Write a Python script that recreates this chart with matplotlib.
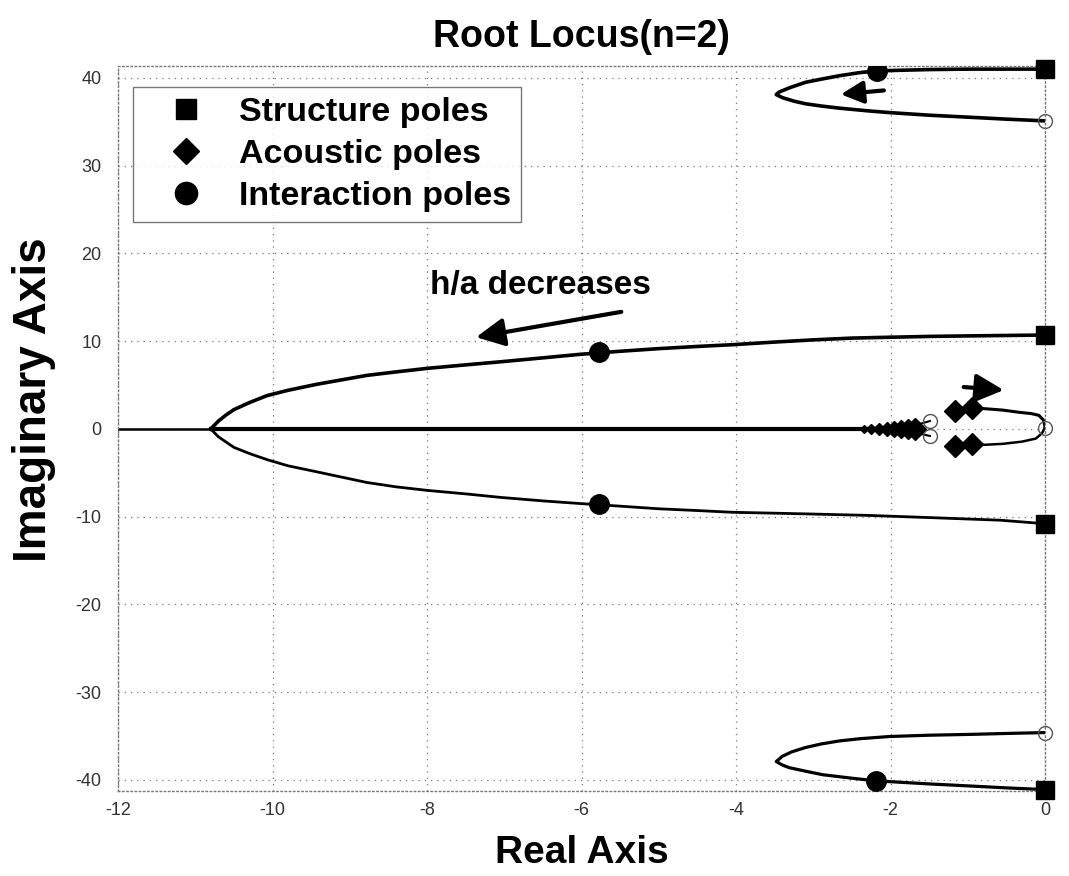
import matplotlib
matplotlib.use("Agg")
import matplotlib.pyplot as plt
from matplotlib.lines import Line2D

plt.rcParams['axes.unicode_minus'] = False
BOLD = ['Liberation Sans', 'DejaVu Sans']

# middle branches (structure pole -> interaction -> breakaway on real axis)
mid_up_x = [-10.8, -10.7, -10.6, -10.5, -10.3, -10.07, -9.8, -9.42, -9.1, -8.78, -8.4, -8.0,
            -7.5, -7.05, -6.5, -6.02, -5.5, -5.0, -4.5, -4.04, -3.5, -3.0, -2.5, -2.0,
            -1.45, -1.0, -0.5, 0.0]
mid_up_y = [0.0, 0.9, 1.6, 2.2, 3.0, 3.8, 4.4, 5.1, 5.6, 6.1, 6.5, 6.9,
            7.3, 7.65, 8.1, 8.5, 8.85, 9.15, 9.4, 9.6, 9.9, 10.15, 10.35, 10.45,
            10.55, 10.6, 10.65, 10.7]
mid_lo_x = [-10.8, -10.7, -10.6, -10.5, -10.3, -10.07, -9.8, -9.42, -9.1, -8.78, -8.4, -8.0,
            -7.5, -7.05, -6.5, -6.02, -5.5, -5.0, -4.5, -4.04, -3.5, -3.0, -2.3, -1.5,
            -0.58, 0.0]
mid_lo_y = [0.0, -0.9, -1.5, -2.1, -2.8, -3.5, -4.2, -4.9, -5.5, -6.1, -6.6, -7.0,
            -7.4, -7.8, -8.2, -8.5, -8.8, -9.1, -9.3, -9.5, -9.6, -9.7, -9.85, -10.1,
            -10.4, -10.8]

# high frequency loops
top_x = [0.0, -0.5, -1.0, -1.5, -2.18, -2.4, -2.66, -2.9, -3.10, -3.3, -3.44, -3.48,
         -3.40, -3.25, -3.10, -2.9, -2.66, -2.3, -2.02, -1.5, -0.94, -0.5, 0.0]
top_y = [41.0, 41.0, 41.0, 40.95, 40.8, 40.6, 40.25, 39.85, 39.5, 38.9, 38.4, 38.1,
         37.75, 37.35, 37.05, 36.8, 36.55, 36.25, 36.05, 35.75, 35.5, 35.3, 35.1]
bot_x = [0.0, -0.5, -0.94, -1.5, -2.02, -2.4, -2.66, -2.9, -3.10, -3.28, -3.40, -3.48,
         -3.40, -3.31, -3.1, -2.88, -2.5, -2.19, -1.5, -0.94, -0.5, 0.0]
bot_y = [-34.6, -34.7, -34.8, -34.9, -35.05, -35.3, -35.55, -35.9, -36.3, -36.8, -37.3, -37.9,
         -38.3, -38.6, -39.0, -39.4, -39.8, -40.1, -40.45, -40.7, -40.9, -41.1]

# real axis segments
axis_thin_x = [-12.0, -10.8]
axis_thick_x = [-10.8, -1.6]

# acoustic branches near the origin
ac_up_x = [-1.49, -1.65, -2.0, -2.5]
ac_up_y = [0.9, 0.5, 0.2, 0.05]
ac_lo_x = [-1.49, -1.65, -2.0, -2.5]
ac_lo_y = [-0.8, -0.5, -0.2, -0.05]
ac_blob_x = [-2.35, -2.25, -2.15, -2.05, -1.95, -1.86, -1.77, -1.68]
ac_blob_y = [0.0, 0.0, 0.0, 0.0, 0.0, 0.0, 0.0, 0.0]

loop_up_x = [-1.16, -0.94, -0.77, -0.55, -0.34, -0.18, -0.08, -0.02, 0.0]
loop_up_y = [2.1, 2.4, 2.3, 2.15, 1.9, 1.75, 1.55, 1.0, 0.2]
loop_lo_x = [0.0, -0.04, -0.12, -0.3, -0.55, -0.98, -1.16]
loop_lo_y = [0.2, -0.5, -1.1, -1.45, -1.7, -1.9, -2.0]

acoustic_x = [-1.16, -0.94, -1.16, -0.94]
acoustic_y = [2.1, 2.4, -2.0, -1.7]

structure_x = [0.0, 0.0, 0.0, 0.0]
structure_y = [41.0, 10.7, -10.8, -41.1]
interaction_x = [-2.18, -5.78, -5.78, -2.19]
interaction_y = [40.8, 8.75, -8.6, -40.1]
open_x = [0.0, 0.0, 0.0, -1.49, -1.49]
open_y = [35.1, -34.6, 0.1, 0.9, -0.8]

xticks = [-12, -10, -8, -6, -4, -2, 0]
yticks = [-40, -30, -20, -10, 0, 10, 20, 30, 40]

fig = plt.figure(figsize=(10.69, 8.76), dpi=100)
ax = fig.add_axes([0.1104, 0.0966, 0.8672, 0.8275])

ax.plot(mid_up_x, mid_up_y, color='k', lw=2.6)
ax.plot(mid_lo_x, mid_lo_y, color='k', lw=2.0)
ax.plot(top_x, top_y, color='k', lw=2.6)
ax.plot(bot_x, bot_y, color='k', lw=2.3)
ax.plot(axis_thin_x, [0, 0], color='k', lw=1.8)
ax.plot(axis_thick_x, [0, 0], color='k', lw=3.0)
ax.plot(ac_up_x, ac_up_y, color='k', lw=1.5)
ax.plot(ac_lo_x, ac_lo_y, color='k', lw=1.5)
ax.plot(loop_up_x, loop_up_y, color='k', lw=2.2)
ax.plot(loop_lo_x, loop_lo_y, color='k', lw=1.8)

blob_sizes = [4, 5, 6.5, 7.5, 8.5, 9.5, 10.5, 11]
for x, y, s in zip(ac_blob_x, ac_blob_y, blob_sizes):
    ax.plot(x, y, marker='D', color='k', ms=s, ls='none')
ax.plot(acoustic_x, acoustic_y, marker='D', color='k', ms=11.5, ls='none')
ax.plot(open_x, open_y, marker='o', mfc='none', mec='#555555', mew=1.0, ms=10, ls='none',
        clip_on=False)
ax.plot(structure_x, structure_y, marker='s', color='k', ms=12.5, ls='none', clip_on=False, zorder=5)
ax.plot(interaction_x, interaction_y, marker='o', color='k', ms=14, ls='none', zorder=5)

small_arrow = dict(arrowstyle='-|>,head_length=0.9,head_width=0.45', lw=3.0, color='k',
                   mutation_scale=15)
big_arrow = dict(arrowstyle='-|>,head_length=0.9,head_width=0.45', lw=3.0, color='k',
                 mutation_scale=19)
ax.annotate('', xy=(-2.68, 38.1), xytext=(-2.05, 38.6), arrowprops=small_arrow)
ax.annotate('', xy=(-0.5, 4.4), xytext=(-1.09, 4.8), arrowprops=big_arrow)
ax.annotate('', xy=(-7.4, 10.4), xytext=(-5.45, 13.4), arrowprops=big_arrow)
ax.text(-6.53, 16.3, 'h/a decreases', ha='center', va='center', fontsize=24,
        fontweight='bold', family=BOLD)

ax.set_xlim(-12, 0)
ax.set_ylim(-41.3, 41.3)
ax.set_xticks(xticks)
ax.set_yticks(yticks)
ax.tick_params(length=0, labelsize=13, labelcolor='#333333')
ax.tick_params(axis='x', pad=8)
ax.tick_params(axis='y', pad=12)
for lab in ax.get_xticklabels() + ax.get_yticklabels():
    lab.set_family(['Liberation Sans Narrow', 'Liberation Sans'])
ax.grid(True, color='#777777', ls=(0, (1, 4)), lw=0.9)
for sp in ax.spines.values():
    sp.set_linestyle((0, (1, 2)))
    sp.set_color('#777777')
    sp.set_linewidth(1.0)

ax.set_title('Root Locus(n=2)', fontsize=27, fontweight='bold', family=BOLD, pad=14)
ax.set_xlabel('Real Axis', fontsize=28, fontweight='bold', family=BOLD)
ax.set_ylabel('Imaginary Axis', fontsize=33, fontweight='bold', family=BOLD)
ax.xaxis.set_label_coords(0.5, -0.06)
ax.yaxis.set_label_coords(-0.067, 0.54)

handles = [
    Line2D([], [], marker='s', color='k', ls='none', ms=15),
    Line2D([], [], marker='D', color='k', ls='none', ms=13),
    Line2D([], [], marker='o', color='k', ls='none', ms=16),
]
labels = ['Structure poles', 'Acoustic poles', 'Interaction poles']
leg = ax.legend(handles, labels, loc='upper left', bbox_to_anchor=(0.016, 0.972),
                borderaxespad=0, prop={'family': BOLD, 'weight': 'bold', 'size': 24.5},
                frameon=True, fancybox=False, borderpad=0.3, labelspacing=0.32,
                handlelength=2.5, handletextpad=0.32)
leg.get_frame().set_edgecolor('#555555')
leg.get_frame().set_linewidth(1.0)

fig.savefig('out.png', dpi=100)
